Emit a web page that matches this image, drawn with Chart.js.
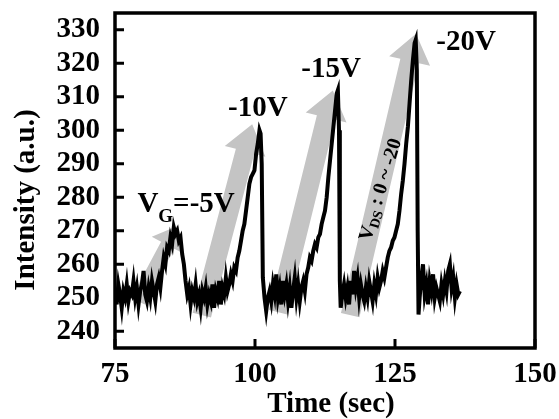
<!DOCTYPE html>
<html>
<head>
<meta charset="utf-8">
<script src="https://cdn.jsdelivr.net/npm/chart.js@4.4.1/dist/chart.umd.min.js"></script>
<style>
body { margin: 0; background: #fff; }
</style>
</head>
<body>
<canvas id="myChart" width="559" height="419"></canvas>
<script>
// time (sec) and intensity (a.u.)
const timeSec = [
    75.0, 75.3, 75.6, 75.9, 76.2, 76.5, 76.8, 77.1, 77.4, 77.7, 78.0, 78.3, 78.6, 78.9, 79.2,
    79.5, 79.8, 80.1, 80.4, 80.7, 81.0, 81.3, 81.6, 81.9, 82.2, 82.5, 82.8, 83.1, 83.4,
    83.7, 84.0, 84.3, 84.6, 84.9, 85.2, 85.5, 85.8, 86.1, 86.4, 86.7, 87.0, 87.3, 87.6, 87.9,
    88.2, 88.5, 88.8, 89.1, 89.4, 89.7, 90.0, 90.3, 90.6, 90.9, 91.2, 91.5, 91.8, 92.1, 92.4,
    92.7, 93.0, 93.3, 93.6, 93.9, 94.2, 94.5, 94.8, 95.1, 95.4, 95.7,
    96.0, 96.3, 96.6, 96.9, 97.2, 97.5, 97.8, 98.1, 98.4, 98.7, 99.0, 99.3, 99.6, 99.9,
    100.2, 100.5, 100.8, 101.0, 101.2, 101.4, 101.7, 102.0, 102.3, 102.6, 102.9,
    103.2, 103.5, 103.8, 104.1, 104.4, 104.7, 105.0, 105.3, 105.6, 105.9, 106.2, 106.5,
    106.8, 107.1, 107.4, 107.7, 108.0, 108.3, 108.6, 108.9, 109.2,
    109.5, 109.8, 110.1, 110.4, 110.7, 111.0, 111.3, 111.6, 111.9, 112.2, 112.5, 112.8,
    113.1, 113.4, 113.7, 114.0, 114.3, 114.6, 114.8, 115.0, 115.15, 115.3, 115.6, 115.9,
    116.2, 116.5, 116.8, 117.1, 117.4, 117.7, 118.0, 118.3, 118.6, 118.9, 119.2, 119.5,
    119.8, 120.1, 120.4, 120.7, 121.0, 121.3, 121.6, 121.9, 122.2, 122.5, 122.8, 123.1,
    123.4, 123.7, 124.0, 124.3, 124.6, 124.9, 125.2, 125.5, 125.8, 126.1, 126.4, 126.7,
    127.0, 127.3, 127.6, 127.9, 128.2, 128.5, 128.7, 128.9, 129.05, 129.2, 129.4,
    129.7, 130.0, 130.3, 130.6, 130.9, 131.2, 131.5, 131.8, 132.1, 132.4, 132.7, 133.0,
    133.3, 133.6, 133.9, 134.2, 134.5, 134.8, 135.1, 135.4, 135.7, 136.0, 136.3, 136.6
];
const intensity = [
    253, 248, 254, 251, 247, 252, 250, 254, 249, 252, 251, 255, 250, 253, 248,
    252, 254, 258, 251, 249, 253, 250, 255, 252, 249, 254, 256, 253, 258,
    262, 260, 265, 264, 268, 266, 271, 269, 270, 267, 268, 263, 260, 255, 251,
    253, 248, 252, 250, 254, 249, 251, 247, 252, 250, 253, 248, 251, 249, 254,
    247, 252, 250, 255, 248, 253, 251, 256, 252, 254, 257,
    255, 259, 258, 262, 264, 267, 270, 272, 276, 280, 284, 286, 287, 288,
    293, 296, 300, 299, 290, 256, 250, 246, 250, 252, 249,
    254, 251, 257, 250, 253, 248, 255, 251, 254, 249, 253, 247,
    252, 256, 250, 254, 249, 253, 255, 252, 257,
    259, 262, 261, 264, 266, 265, 268, 269, 272, 274, 276, 280,
    286, 291, 296, 301, 306, 311, 312, 300, 255, 247, 251, 254,
    250, 253, 248, 255, 251, 258, 253, 256, 250, 254, 251, 249,
    253, 250, 255, 252, 249, 254, 251, 256, 253, 255, 258, 256,
    259, 262, 264, 265, 267, 268, 270, 272, 276, 281, 285, 290,
    296, 301, 308, 315, 321, 326, 327, 318, 270, 245, 250,
    256, 260, 251, 254, 248, 255, 252, 257, 250, 253, 251, 249,
    254, 251, 255, 252, 258, 260, 253, 256, 250, 254, 251, 252
];

const xTicks = [75, 100, 125, 150];
const yTicks = [240, 250, 260, 270, 280, 290, 300, 310, 320, 330];

// gray V_DS sweep arrows: tail and tip in (sec, a.u.)
const arrowTails = [[79.1, 249.0], [90.5, 244.8], [104.1, 245.7], [117.0, 244.8]];
const arrowTips = [[86.25, 271.5], [99.5, 301.8], [113.9, 311.9], [128.75, 328.8]];

// gate voltage labels next to the peaks
const peakLabels = ["-10V", "-15V", "-20V"];
const peakLabelAt = [[100.5, 306.5], [113.6, 318.2], [137.7, 326.2]];

const FONT = '"Liberation Serif", "Times New Roman", serif';

function drawArrow(ctx, x0, y0, x1, y1, shaft, head, headLen) {
    var dx = x1 - x0, dy = y1 - y0;
    var len = Math.sqrt(dx * dx + dy * dy);
    var ux = dx / len, uy = dy / len;
    var nx = -uy, ny = ux;
    var bx = x1 - ux * headLen, by = y1 - uy * headLen;
    ctx.beginPath();
    ctx.moveTo(x0 + nx * shaft / 2, y0 + ny * shaft / 2);
    ctx.lineTo(bx + nx * shaft / 2, by + ny * shaft / 2);
    ctx.lineTo(bx + nx * head / 2, by + ny * head / 2);
    ctx.lineTo(x1, y1);
    ctx.lineTo(bx - nx * head / 2, by - ny * head / 2);
    ctx.lineTo(bx - nx * shaft / 2, by - ny * shaft / 2);
    ctx.lineTo(x0 - nx * shaft / 2, y0 - ny * shaft / 2);
    ctx.closePath();
    ctx.fill();
}

// text pieces: [string, size, baseline shift]
function drawPieces(ctx, pieces, x, y) {
    var cx = x;
    for (var i in pieces) {
        ctx.font = 'bold ' + pieces[i][1] + 'px ' + FONT;
        ctx.fillText(pieces[i][0], cx, y + pieces[i][2]);
        cx += ctx.measureText(pieces[i][0]).width;
    }
}
function piecesWidth(ctx, pieces) {
    var w = 0;
    for (var i in pieces) {
        ctx.font = 'bold ' + pieces[i][1] + 'px ' + FONT;
        w += ctx.measureText(pieces[i][0]).width;
    }
    return w;
}

function noPadding(scale) {
    scale.paddingTop = 0;
    scale.paddingBottom = 0;
    scale.paddingLeft = 0;
    scale.paddingRight = 0;
}

const figurePlugin = {
    id: 'figure',
    beforeDatasetsDraw(chart) {
        const ctx = chart.ctx, xs = chart.scales.x, ys = chart.scales.y;
        ctx.save();
        ctx.fillStyle = '#c4c4c4';
        for (var i = 0; i < arrowTails.length; i++) {
            var small = (i === 0);
            drawArrow(ctx,
                xs.getPixelForValue(arrowTails[i][0]), ys.getPixelForValue(arrowTails[i][1]),
                xs.getPixelForValue(arrowTips[i][0]), ys.getPixelForValue(arrowTips[i][1]),
                small ? 15 : 19, small ? 36 : 42, small ? 22 : 28);
        }
        ctx.restore();
    },
    afterDraw(chart) {
        const ctx = chart.ctx, xs = chart.scales.x, ys = chart.scales.y;
        const a = chart.chartArea;
        ctx.save();
        ctx.strokeStyle = '#000';
        ctx.fillStyle = '#000';
        ctx.lineWidth = 3.5;
        // frame
        ctx.strokeRect(a.left, a.top, a.right - a.left, a.bottom - a.top);
        // inward ticks
        ctx.lineWidth = 3;
        ctx.beginPath();
        for (var i in yTicks) {
            var py = ys.getPixelForValue(yTicks[i]);
            ctx.moveTo(a.left, py);
            ctx.lineTo(a.left + 9, py);
        }
        for (var j in xTicks) {
            var px = xs.getPixelForValue(xTicks[j]);
            ctx.moveTo(px, a.bottom);
            ctx.lineTo(px, a.bottom - 9);
        }
        ctx.stroke();

        // peak labels
        ctx.textAlign = 'center';
        ctx.textBaseline = 'middle';
        ctx.font = 'bold 29px ' + FONT;
        for (var k in peakLabels) {
            ctx.fillText(peakLabels[k],
                xs.getPixelForValue(peakLabelAt[k][0]), ys.getPixelForValue(peakLabelAt[k][1]));
        }

        // V_G=-5V
        ctx.textAlign = 'left';
        ctx.textBaseline = 'alphabetic';
        drawPieces(ctx, [["V", 29, 0], ["G", 19, 10], ["=-5V", 29, 0]],
            xs.getPixelForValue(79.0), ys.getPixelForValue(275.5));

        // V_DS : 0 ~ -20 along the last arrow
        var vds = [["V", 20, 0], ["DS", 14, 5], [" : 0 ~ -20", 20, 0]];
        ctx.save();
        ctx.translate(xs.getPixelForValue(122.5), ys.getPixelForValue(282.2));
        ctx.rotate(-73 * Math.PI / 180);
        ctx.textBaseline = 'middle';
        drawPieces(ctx, vds, -piecesWidth(ctx, vds) / 2, 0);
        ctx.restore();

        // axis titles
        ctx.font = 'bold 29px ' + FONT;
        ctx.textAlign = 'center';
        ctx.textBaseline = 'middle';
        ctx.fillText('Time (sec)', 331, 405);
        ctx.save();
        ctx.translate(27, 200);
        ctx.rotate(-Math.PI / 2);
        ctx.fillText('Intensity (a.u.)', 0, 0);
        ctx.restore();
        ctx.restore();
    }
};

var points = [];
for (var i = 0; i < timeSec.length; i++) {
    points.push({ x: timeSec[i], y: intensity[i] });
}

var ctx = document.getElementById('myChart').getContext('2d');
var chart = new Chart(ctx, {
    type: 'line',
    data: {
        datasets: [{
            data: points,
            borderColor: '#000',
            borderWidth: 4,
            pointRadius: 0,
            tension: 0,
            fill: false
        }]
    },
    options: {
        responsive: false,
        animation: false,
        events: [],
        layout: { padding: { top: 13, right: 24, left: 0, bottom: 0 } },
        plugins: { legend: { display: false }, tooltip: { enabled: false } },
        scales: {
            x: {
                type: 'linear',
                min: 75,
                max: 150,
                grid: { display: false, drawTicks: false },
                border: { display: false },
                afterBuildTicks: function (scale) {
                    scale.ticks = xTicks.map(function (v) { return { value: v }; });
                },
                afterFit: function (scale) { scale.height = 71; noPadding(scale); },
                ticks: {
                    color: '#000',
                    padding: 9,
                    autoSkip: false,
                    maxRotation: 0,
                    font: { family: FONT, size: 29, weight: 'bold' }
                }
            },
            y: {
                min: 235,
                max: 335,
                grid: { display: false, drawTicks: false },
                border: { display: false },
                afterBuildTicks: function (scale) {
                    scale.ticks = yTicks.map(function (v) { return { value: v }; });
                },
                afterFit: function (scale) { scale.width = 115; noPadding(scale); },
                ticks: {
                    color: '#000',
                    padding: 15,
                    autoSkip: false,
                    font: { family: FONT, size: 29, weight: 'bold' }
                }
            }
        }
    },
    plugins: [figurePlugin]
});
</script>
</body>
</html>
